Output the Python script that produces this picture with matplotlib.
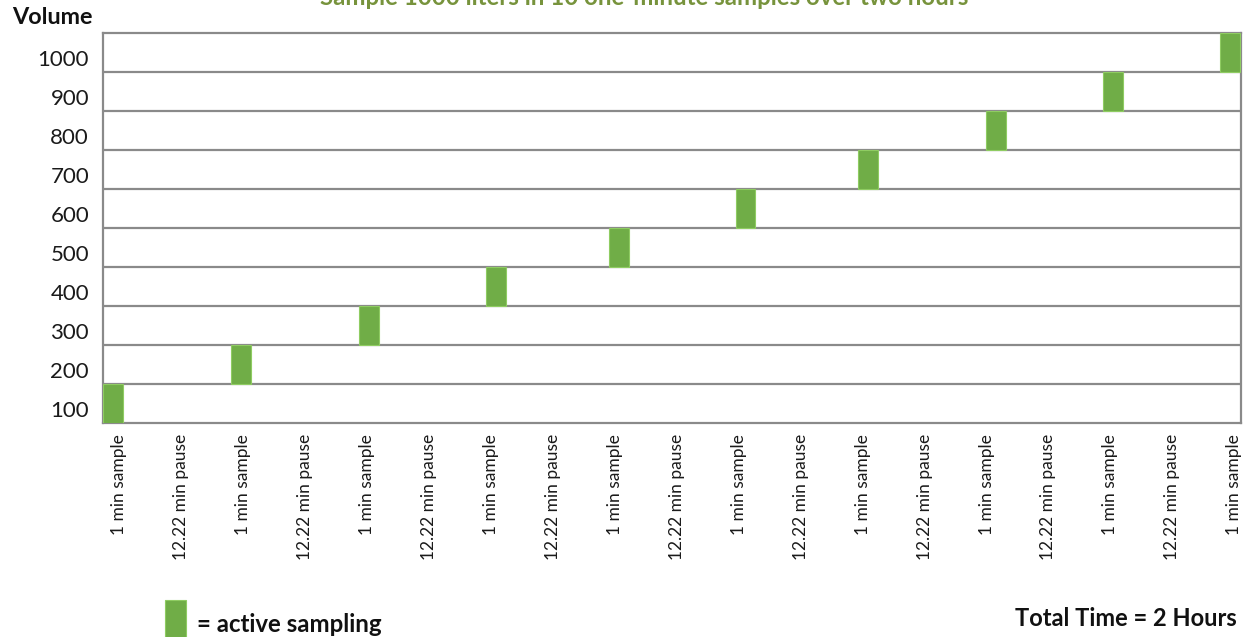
import matplotlib
matplotlib.use("Agg")
import matplotlib.pyplot as plt
import numpy as np

plt.rcParams['font.family'] = ['Lato', 'DejaVu Sans']

# Data
volume_levels = [100, 200, 300, 400, 500, 600, 700, 800, 900, 1000]
# start of each 1-minute sample (minutes from start, as drawn)
sample_start = [0.0, 13.5, 27.0, 40.4, 53.4, 66.7, 79.6, 93.1, 105.5, 117.8]
sample_width = 2.1  # drawn width in minutes
step_labels = []
for i in range(10):
    step_labels.append("1 min sample")
    if i < 9:
        step_labels.append("12.22 min pause")
total_minutes = 120

green = '#70AD47'
grid_col = '#8A8A8A'

fig = plt.figure(figsize=(12.48, 6.37), dpi=100)
ax = fig.add_axes([103/1248, 1-423/637, (1241-103)/1248, (423-33)/637])

bottoms = [v - 100 for v in volume_levels]
ax.bar(sample_start, [100]*10, width=sample_width, bottom=bottoms, align='edge',
       color=green, edgecolor='#8FCC62', linewidth=0.8, zorder=3)

ax.set_xlim(0, total_minutes)
ax.set_ylim(0, 1000)

for v in volume_levels[:-1]:
    ax.axhline(v, color=grid_col, linewidth=1.6, zorder=2)

for s in ax.spines.values():
    s.set_color(grid_col)
    s.set_linewidth(1.6)

# y labels centered (slightly low) in each band
ax.set_yticks([v - 65 for v in volume_levels])
ax.set_yticklabels([str(v) for v in volume_levels], fontsize=16, color='#1a1a1a')
ax.tick_params(axis='y', length=0, pad=10)

xt = np.linspace(1.7, 119.3, len(step_labels))
ax.set_xticks(xt)
ax.set_xticklabels(step_labels, rotation=90, fontsize=12.5, color='#1a1a1a', va='top')
ax.tick_params(axis='x', length=0, pad=8)

fig.text(644/1248, 1-5/637, "Sample 1000 liters in 10 one-minute samples over two hours",
         ha='center', va='baseline', fontsize=17.3, fontweight='bold', color='#77933C')
fig.text(12/1248, 1-18/637, "Volume", ha='left', va='center', fontsize=16.8,
         fontweight='bold', color='#111111')

# legend swatch
fig.patches.append(matplotlib.patches.Rectangle((165/1248, 0), 21/1248, 37/637,
                   transform=fig.transFigure, facecolor=green, edgecolor='#8FCC62',
                   linewidth=0.8))
fig.text(197/1248, 1-625/637, "= active sampling", ha='left', va='center',
         fontsize=17.3, fontweight='bold', color='#111111')
fig.text(1237/1248, 1-618/637, "Total Time = 2 Hours", ha='right', va='center',
         fontsize=17, fontweight='bold', color='#111111')

fig.savefig("out.png", dpi=100)
